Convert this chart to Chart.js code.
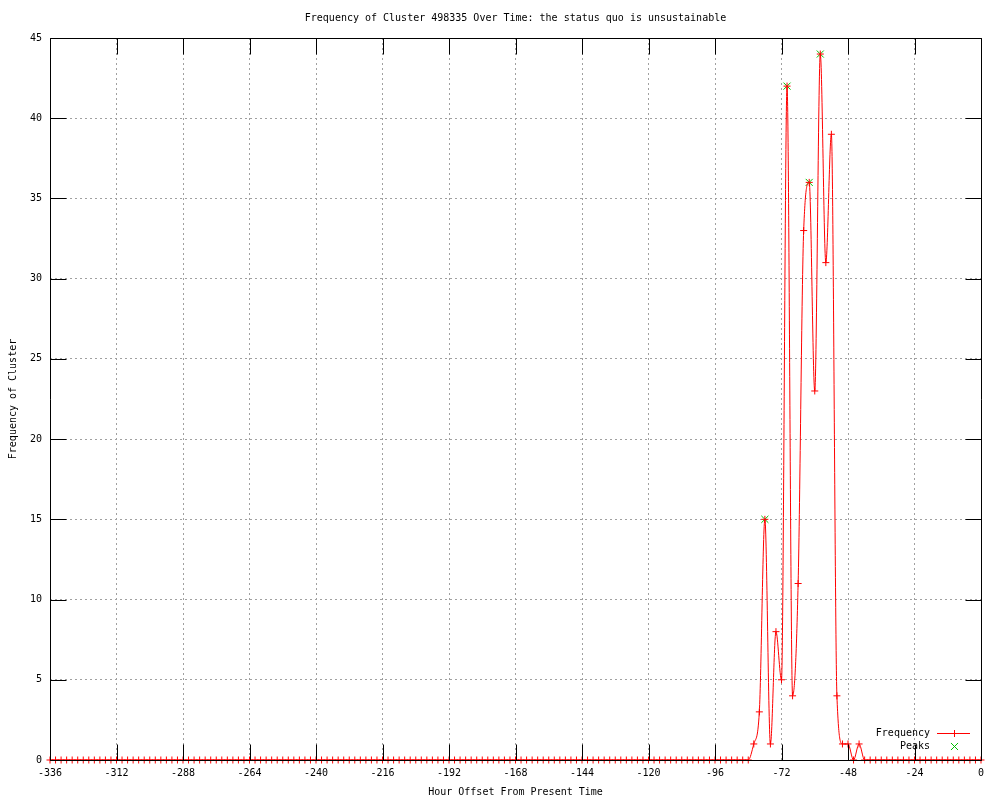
<!DOCTYPE html>
<html>
<head>
<meta charset="utf-8">
<title>Frequency of Cluster 498335</title>
<script src="https://cdn.jsdelivr.net/npm/chart.js@4/dist/chart.umd.min.js"></script>
<style>
  body { margin: 0; background: #fff; }
  #chart { display: block; }
</style>
</head>
<body>
<canvas id="chart" width="1000" height="800"></canvas>
<script>
// hour offsets, one sample every 2 hours
const hours = [
  -336, -334, -332, -330, -328, -326, -324, -322, -320, -318, -316, -314,
  -312, -310, -308, -306, -304, -302, -300, -298, -296, -294, -292, -290,
  -288, -286, -284, -282, -280, -278, -276, -274, -272, -270, -268, -266,
  -264, -262, -260, -258, -256, -254, -252, -250, -248, -246, -244, -242,
  -240, -238, -236, -234, -232, -230, -228, -226, -224, -222, -220, -218,
  -216, -214, -212, -210, -208, -206, -204, -202, -200, -198, -196, -194,
  -192, -190, -188, -186, -184, -182, -180, -178, -176, -174, -172, -170,
  -168, -166, -164, -162, -160, -158, -156, -154, -152, -150, -148, -146,
  -144, -142, -140, -138, -136, -134, -132, -130, -128, -126, -124, -122,
  -120, -118, -116, -114, -112, -110, -108, -106, -104, -102, -100, -98,
  -96, -94, -92, -90, -88, -86, -84, -82, -80, -78, -76, -74,
  -72, -70, -68, -66, -64, -62, -60, -58, -56, -54, -52, -50,
  -48, -46, -44, -42, -40, -38, -36, -34, -32, -30, -28, -26,
  -24, -22, -20, -18, -16, -14, -12, -10, -8, -6, -4, -2,
  0
];

const frequency = [
  0, 0, 0, 0, 0, 0, 0, 0, 0, 0, 0, 0,
  0, 0, 0, 0, 0, 0, 0, 0, 0, 0, 0, 0,
  0, 0, 0, 0, 0, 0, 0, 0, 0, 0, 0, 0,
  0, 0, 0, 0, 0, 0, 0, 0, 0, 0, 0, 0,
  0, 0, 0, 0, 0, 0, 0, 0, 0, 0, 0, 0,
  0, 0, 0, 0, 0, 0, 0, 0, 0, 0, 0, 0,
  0, 0, 0, 0, 0, 0, 0, 0, 0, 0, 0, 0,
  0, 0, 0, 0, 0, 0, 0, 0, 0, 0, 0, 0,
  0, 0, 0, 0, 0, 0, 0, 0, 0, 0, 0, 0,
  0, 0, 0, 0, 0, 0, 0, 0, 0, 0, 0, 0,
  0, 0, 0, 0, 0, 0, 0, 1, 3, 15, 1, 8,
  5, 42, 4, 11, 33, 36, 23, 44, 31, 39, 4, 1,
  1, 0, 1, 0, 0, 0, 0, 0, 0, 0, 0, 0,
  0, 0, 0, 0, 0, 0, 0, 0, 0, 0, 0, 0,
  0
];

const peakHours = [-78, -70, -62, -58];
const peakValues = [15, 42, 36, 44];

const xMin = -336;
const xMax = 0;
const xStep = 24;
const yMin = 0;
const yMax = 45;
const yStep = 5;

const titleText = 'Frequency of Cluster 498335 Over Time: the status quo is unsustainable';
const FONT = '"DejaVu Sans Mono", "Liberation Mono", monospace';
const RED = '#ff0000';
const GREEN = '#00c000';

// title, frame with inward ticks and the boxed-in key, gnuplot style
const gnuplotFrame = {
  id: 'gnuplotFrame',
  afterDraw(chart) {
    const ctx = chart.ctx;
    const area = chart.chartArea;
    const xs = chart.scales.x;
    const ys = chart.scales.y;
    const L = Math.round(area.left) + 0.5;
    const R = Math.round(area.right) + 0.5;
    const T = Math.round(area.top) + 0.5;
    const B = Math.round(area.bottom) + 0.5;
    const tickLen = 16;

    ctx.save();
    ctx.strokeStyle = '#000';
    ctx.lineWidth = 1;
    ctx.beginPath();
    ctx.rect(L, T, R - L, B - T);

    xs.ticks.forEach(t => {
      const px = Math.round(xs.getPixelForValue(t.value)) + 0.5;
      ctx.moveTo(px, B); ctx.lineTo(px, B - tickLen);
      ctx.moveTo(px, T); ctx.lineTo(px, T + tickLen);
    });
    ys.ticks.forEach(t => {
      const py = Math.round(ys.getPixelForValue(t.value)) + 0.5;
      ctx.moveTo(L, py); ctx.lineTo(L + tickLen, py);
      ctx.moveTo(R, py); ctx.lineTo(R - tickLen, py);
    });
    ctx.stroke();

    // title centred over the plot
    ctx.fillStyle = '#000';
    ctx.font = '10px ' + FONT;
    ctx.textAlign = 'center';
    ctx.textBaseline = 'middle';
    ctx.fillText(titleText, (area.left + area.right) / 2, 18);

    // key, bottom right inside the plot
    const ds = chart.data.datasets;
    const textRight = area.right - 51;
    const sampleX0 = area.right - 44;
    const sampleX1 = area.right - 11;
    const sampleMid = (sampleX0 + sampleX1) / 2;
    const row1 = area.bottom - 27;
    const row2 = area.bottom - 14;

    ctx.textAlign = 'right';
    ctx.fillText(ds[0].label, textRight, row1);
    ctx.fillText(ds[1].label, textRight, row2);

    ctx.strokeStyle = ds[0].borderColor;
    ctx.beginPath();
    ctx.moveTo(sampleX0, Math.round(row1) + 0.5);
    ctx.lineTo(sampleX1, Math.round(row1) + 0.5);
    ctx.stroke();
    Chart.helpers.drawPoint(ctx, { pointStyle: 'cross', radius: 3.5, rotation: 0, borderWidth: 1 },
      Math.round(sampleMid) + 0.5, Math.round(row1) + 0.5);

    ctx.strokeStyle = ds[1].borderColor;
    Chart.helpers.drawPoint(ctx, { pointStyle: 'crossRot', radius: 5, rotation: 0, borderWidth: 1 },
      Math.round(sampleMid) + 0.5, Math.round(row2) + 0.5);
    ctx.restore();
  }
};

const gridStyle = {
  color: '#a0a0a0',
  lineWidth: 1,
  drawTicks: false
};
// in v4 the grid line dash lives under border
const borderStyle = { display: false, dash: [2, 3] };

const ctx = document.getElementById('chart').getContext('2d');
new Chart(ctx, {
  type: 'line',
  data: {
    datasets: [{
      label: 'Frequency',
      data: hours.map((h, i) => ({ x: h, y: frequency[i] })),
      borderColor: RED,
      backgroundColor: RED,
      borderWidth: 1,
      cubicInterpolationMode: 'monotone',
      pointStyle: 'cross',
      pointRadius: 3.5,
      pointBorderWidth: 1,
      pointBorderColor: RED,
      fill: false,
      clip: false,
      order: 1
    }, {
      label: 'Peaks',
      data: peakHours.map((h, i) => ({ x: h, y: peakValues[i] })),
      showLine: false,
      borderColor: GREEN,
      backgroundColor: GREEN,
      pointStyle: 'crossRot',
      pointRadius: 5,
      pointBorderWidth: 1,
      pointBorderColor: GREEN,
      clip: false,
      order: 2
    }]
  },
  options: {
    responsive: false,
    animation: false,
    events: [],
    layout: { padding: { left: 0, right: 19, top: 38, bottom: 0 } },
    plugins: {
      legend: { display: false },
      title: { display: false },
      tooltip: { enabled: false }
    },
    scales: {
      x: {
        type: 'linear',
        min: xMin,
        max: xMax,
        grid: gridStyle,
        border: borderStyle,
        ticks: {
          stepSize: xStep,
          padding: 7,
          color: '#000',
          maxRotation: 0,
          autoSkip: false,
          font: { family: FONT, size: 10 }
        },
        title: {
          display: true,
          text: 'Hour Offset From Present Time',
          color: '#000',
          font: { family: FONT, size: 10 },
          padding: { top: 0, bottom: 2 }
        },
        afterFit: scale => { scale.height = 40; }
      },
      y: {
        min: yMin,
        max: yMax,
        grid: gridStyle,
        border: borderStyle,
        ticks: {
          stepSize: yStep,
          padding: 8,
          color: '#000',
          font: { family: FONT, size: 10 }
        },
        title: {
          display: true,
          text: 'Frequency of Cluster',
          color: '#000',
          font: { family: FONT, size: 10 },
          padding: { top: 7, bottom: 0 }
        },
        afterFit: scale => { scale.width = 50; }
      }
    }
  },
  plugins: [gnuplotFrame]
});
</script>
</body>
</html>
